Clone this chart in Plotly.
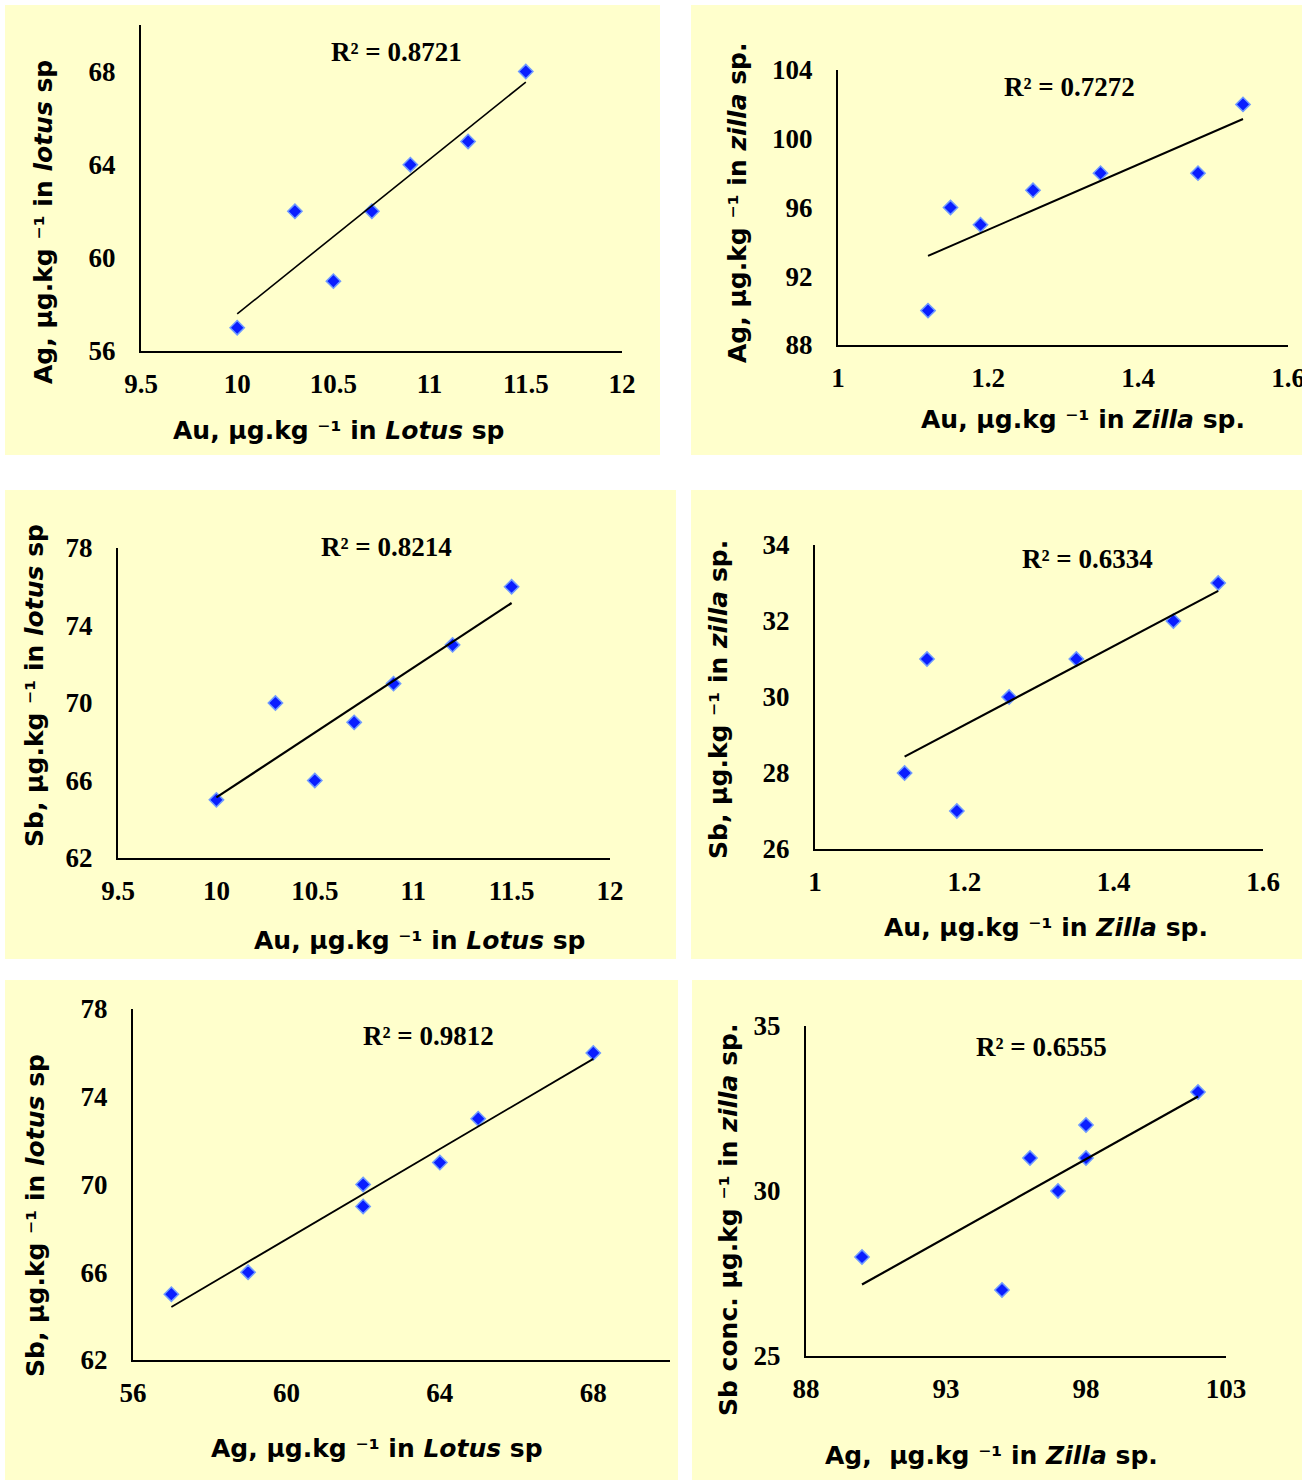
import numpy as np
import plotly.graph_objects as go

# ---------------- data ----------------
au_lotus = [10, 10.3, 10.5, 10.7, 10.9, 11.2, 11.5]
ag_lotus = [57, 62, 59, 62, 64, 65, 68]
sb_lotus = [65, 70, 66, 69, 71, 73, 76]

au_zilla = [1.12, 1.15, 1.19, 1.26, 1.35, 1.48, 1.54]
ag_zilla = [90, 96, 95, 97, 98, 98, 102]
sb_zilla = [28, 31, 27, 30, 31, 32, 33]

r2_labels = ["R² = 0.8721", "R² = 0.7272", "R² = 0.8214",
             "R² = 0.6334", "R² = 0.9812", "R² = 0.6555"]

IT = '<span style="font-style:italic;font-size:25px">'
x_titles = [
    "Au, μg.kg ⁻¹ in " + IT + "Lotus</span> sp",
    "Au, μg.kg ⁻¹ in " + IT + "Zilla</span> sp.",
    "Au, μg.kg ⁻¹ in " + IT + "Lotus</span> sp",
    "Au, μg.kg ⁻¹ in " + IT + "Zilla</span> sp.",
    "Ag, μg.kg ⁻¹ in " + IT + "Lotus</span> sp",
    "Ag,\u00a0 μg.kg ⁻¹ in " + IT + "Zilla</span> sp.",
]
y_titles = [
    "Ag, μg.kg ⁻¹ in " + IT + "lotus</span> sp",
    "Ag, μg.kg ⁻¹ in " + IT + "zilla</span> sp.",
    "Sb, μg.kg ⁻¹ in " + IT + "lotus</span> sp",
    "Sb, μg.kg ⁻¹ in " + IT + "zilla</span> sp.",
    "Sb, μg.kg ⁻¹ in " + IT + "lotus</span> sp",
    "Sb conc. μg.kg ⁻¹ in " + IT + "zilla</span> sp.",
]

x_ticks = [
    [9.5, 10, 10.5, 11, 11.5, 12],
    [1, 1.2, 1.4, 1.6],
    [9.5, 10, 10.5, 11, 11.5, 12],
    [1, 1.2, 1.4, 1.6],
    [56, 60, 64, 68],
    [88, 93, 98, 103],
]
x_ranges = [[9.5, 12], [1, 1.6], [9.5, 12], [1, 1.6], [56, 70], [88, 103]]
y_ticks = [
    [56, 60, 64, 68],
    [88, 92, 96, 100, 104],
    [62, 66, 70, 74, 78],
    [26, 28, 30, 32, 34],
    [62, 66, 70, 74, 78],
    [25, 30, 35],
]
y_ranges = [[56, 70], [88, 104], [62, 78], [26, 34], [62, 78], [25, 35]]

panel_x = [au_lotus, au_zilla, au_lotus, au_zilla, ag_lotus, ag_zilla]
panel_y = [ag_lotus, ag_zilla, sb_lotus, sb_zilla, sb_lotus, sb_zilla]

# ---------------- layout geometry (pixels) ----------------
W, H = 1314, 1481
boxes = [(5, 5, 660, 455), (691, 5, 1302, 455),
         (5, 490, 676, 959), (691, 490, 1302, 959),
         (5, 980, 678, 1480), (692, 980, 1302, 1480)]
plot_areas = [(141, 25, 622, 351), (838, 70, 1288, 345),
              (118, 548, 610, 858), (815, 545, 1263, 849),
              (133, 1009, 670, 1360), (806, 1026, 1226, 1356)]
xtitle_pos = [(339, 430), (1083, 420), (420, 940), (1046, 928), (377, 1448), (991, 1455)]
ytitle_pos = [(43, 222), (737, 203), (35, 686), (718, 700), (35, 1216), (728, 1220)]
r2_pos = [(396, 52), (1069, 87), (386, 547), (1087, 559), (428, 1036), (1041, 1047)]
trend_w = [1.6, 2.0, 2.2, 2.2, 1.8, 2.2]

def px(x):
    return x / W

def py(y):
    return 1 - y / H

fig = go.Figure()
layout = dict(
    width=W, height=H,
    margin=dict(l=0, r=0, t=0, b=0, pad=0, autoexpand=False), autosize=False,
    paper_bgcolor="white", plot_bgcolor="rgba(0,0,0,0)",
    showlegend=False, shapes=[], annotations=[],
)

tick_font = dict(family="Liberation Serif, Times New Roman, serif", size=27,
                 color="black", weight="bold")
title_font = dict(family="DejaVu Sans, Verdana, sans-serif", size=25,
                  color="black", weight="bold")

for i in range(6):
    n = "" if i == 0 else str(i + 1)
    xa, ya = "x" + n, "y" + n
    xs = np.array(panel_x[i], dtype=float)
    ys = np.array(panel_y[i], dtype=float)

    fig.add_trace(go.Scatter(
        x=xs, y=ys, mode="markers", xaxis=xa, yaxis=ya,
        marker=dict(symbol="diamond", size=11, color="#0a1eff",
                    line=dict(width=1.5, color="#6f9bff")),
        hoverinfo="skip"))

    slope, icpt = np.polyfit(xs, ys, 1)
    tx = np.array([xs.min(), xs.max()])
    fig.add_trace(go.Scatter(
        x=tx, y=slope * tx + icpt, mode="lines", xaxis=xa, yaxis=ya,
        line=dict(color="black", width=trend_w[i]), hoverinfo="skip"))

    x0, y0, x1, y1 = plot_areas[i]
    layout["xaxis" + n] = dict(
        domain=[px(x0), px(x1)], anchor=ya, range=x_ranges[i],
        tickmode="array", tickvals=x_ticks[i], automargin=False,
        showline=True, linecolor="black", linewidth=2,
        showgrid=False, zeroline=False, ticks="", tickfont=tick_font,
        ticklabelstandoff=8)
    layout["yaxis" + n] = dict(
        domain=[py(y1), py(y0)], anchor=xa, range=y_ranges[i],
        tickmode="array", tickvals=y_ticks[i], automargin=False,
        showline=True, linecolor="black", linewidth=2,
        showgrid=False, zeroline=False, ticks="", tickfont=tick_font,
        ticklabelstandoff=18)

    bx0, by0, bx1, by1 = boxes[i]
    layout["shapes"].append(dict(
        type="rect", xref="paper", yref="paper", layer="below",
        x0=px(bx0), x1=px(bx1), y0=py(by1), y1=py(by0),
        fillcolor="#FFFFCC", line=dict(width=0)))

    cx, cy = xtitle_pos[i]
    layout["annotations"].append(dict(
        text=x_titles[i], xref="paper", yref="paper", x=px(cx), y=py(cy),
        xanchor="center", yanchor="middle", showarrow=False, font=title_font))
    cx, cy = ytitle_pos[i]
    layout["annotations"].append(dict(
        text=y_titles[i], xref="paper", yref="paper", x=px(cx), y=py(cy),
        xanchor="center", yanchor="middle", showarrow=False, textangle=-90,
        font=title_font))
    cx, cy = r2_pos[i]
    layout["annotations"].append(dict(
        text=r2_labels[i], xref="paper", yref="paper", x=px(cx), y=py(cy),
        xanchor="center", yanchor="middle", showarrow=False,
        font=dict(family="Liberation Serif, Times New Roman, serif", size=27,
                  color="black", weight="bold")))

# white gutter on the right (clips the last tick label like the original)
layout["shapes"].append(dict(
    type="rect", xref="paper", yref="paper", layer="above",
    x0=px(1302), x1=1.0, y0=0, y1=1, fillcolor="white", line=dict(width=0)))

fig.update_layout(**layout)
fig.write_html(
    "out.html", config={"displayModeBar": False, "responsive": False},
    post_script=("document.documentElement.style.margin='0';"
                 "document.documentElement.style.padding='0';"
                 "document.body.style.margin='0';document.body.style.padding='0';"
                 "document.body.style.overflow='hidden';"
                 "document.documentElement.style.overflow='hidden';"))
